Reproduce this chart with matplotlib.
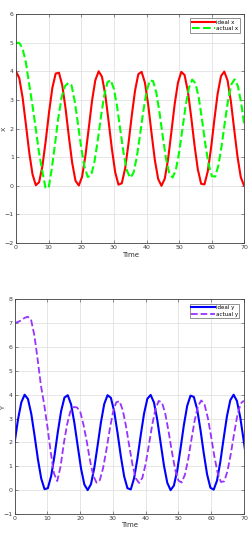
import matplotlib
matplotlib.use("Agg")
from matplotlib import pyplot as plt

# time samples of the reference curves
t_ideal = [0, 1.01, 2.03, 3.04, 4.05, 5.07, 6.08, 7.09, 8.10, 9.12, 10.13, 11.14, 12.16,
           13.17, 14.18, 15.20, 16.21, 17.22, 18.23, 19.25, 20.26, 21.27, 22.29, 23.30,
           24.31, 25.33, 26.34, 27.35, 28.36, 29.38, 30.39, 31.40, 32.42, 33.43, 34.44,
           35.46, 36.47, 37.48, 38.49, 39.51, 40.52, 41.53, 42.55, 43.56, 44.57, 45.59,
           46.60, 47.61, 48.62, 49.64, 50.65, 51.66, 52.68, 53.69, 54.70, 55.72, 56.73,
           57.74, 58.75, 59.77, 60.78, 61.79, 62.81, 63.82, 64.83, 65.85, 66.86, 67.87,
           68.88, 69.90, 70.91]
t_actual = list(range(71))

ideal_x = [4.00, 3.76, 3.08, 2.14, 1.17, 0.40, 0.02, 0.13, 0.69, 1.58, 2.57, 3.42, 3.92,
           3.95, 3.51, 2.69, 1.71, 0.80, 0.18, 0.01, 0.32, 1.05, 2.01, 2.97, 3.69, 4.00,
           3.81, 3.19, 2.27, 1.29, 0.48, 0.04, 0.09, 0.60, 1.45, 2.44, 3.32, 3.90, 3.98,
           3.60, 2.82, 1.84, 0.90, 0.24, 0.00, 0.25, 0.93, 1.88, 2.85, 3.61, 3.98, 3.87,
           3.29, 2.40, 1.42, 0.57, 0.07, 0.05, 0.50, 1.32, 2.31, 3.22, 3.83, 3.99, 3.68,
           2.94, 1.97, 1.02, 0.30, 0.00, 0.19]
actual_x = [5.00, 4.99, 4.80, 4.33, 3.57, 2.85, 2.05, 1.20, 0.55, -0.05, -0.08, 0.62, 1.50,
            2.40, 3.10, 3.48, 3.59, 3.52, 2.95, 2.15, 1.33, 0.65, 0.31, 0.36, 0.81, 1.54,
            2.38, 3.13, 3.61, 3.70, 3.39, 2.75, 1.92, 1.12, 0.53, 0.28, 0.45, 0.99, 1.77,
            2.60, 3.29, 3.68, 3.66, 3.25, 2.54, 1.70, 0.93, 0.42, 0.29, 0.56, 1.18, 1.99,
            2.81, 3.43, 3.71, 3.58, 3.08, 2.31, 1.47, 0.76, 0.34, 0.32, 0.70, 1.39, 2.22,
            3.00, 3.55, 3.72, 3.48, 2.89, 2.09]

ideal_y = [2.00, 2.96, 3.68, 4.00, 3.82, 3.20, 2.28, 1.30, 0.49, 0.04, 0.08, 0.59, 1.44,
           2.43, 3.31, 3.88, 3.98, 3.60, 2.82, 1.85, 0.91, 0.24, 0.00, 0.25, 0.93, 1.87,
           2.84, 3.61, 3.98, 3.87, 3.30, 2.41, 1.42, 0.58, 0.08, 0.03, 0.50, 1.32, 2.30,
           3.21, 3.83, 3.99, 3.67, 2.94, 1.98, 1.03, 0.31, 0.00, 0.19, 0.82, 1.74, 2.72,
           3.53, 3.96, 3.91, 3.40, 2.54, 1.55, 0.67, 0.10, 0.02, 0.40, 1.19, 2.17, 3.10,
           3.77, 4.00, 3.74, 3.06, 2.11, 1.14]
actual_y = [7.00, 7.05, 7.12, 7.22, 7.27, 7.15, 6.50, 5.50, 4.40, 3.60, 2.66, 1.60, 0.70,
            0.38, 0.98, 1.95, 2.75, 3.30, 3.48, 3.47, 3.30, 2.75, 2.05, 1.25, 0.61, 0.31,
            0.42, 0.92, 1.68, 2.52, 3.25, 3.68, 3.73, 3.36, 2.68, 1.84, 1.05, 0.49, 0.30,
            0.52, 1.10, 1.90, 2.74, 3.40, 3.74, 3.67, 3.20, 2.46, 1.62, 0.87, 0.40, 0.32,
            0.65, 1.30, 2.14, 2.94, 3.53, 3.76, 3.58, 3.02, 2.24, 1.40, 0.71, 0.34, 0.37,
            0.80, 1.52, 2.36, 3.13, 3.63, 3.75]

x_ticks = [0, 10, 20, 30, 40, 50, 60, 70]

fig = plt.figure(figsize=(2.53, 5.5), dpi=100)
fig.patch.set_facecolor("white")

ax1 = fig.add_axes([0.0632, 0.558, 0.903, 0.4165])
ax2 = fig.add_axes([0.058, 0.0655, 0.906, 0.3903])


def style(ax, ylo, yhi, ylab):
    ax.set_xlim(0, 70)
    ax.set_ylim(ylo, yhi)
    ax.set_xticks(x_ticks)
    ax.set_yticks(range(ylo, yhi + 1))
    ax.grid(True, color="#dcdcdc", linewidth=0.5)
    ax.set_axisbelow(True)
    ax.tick_params(direction="in", length=2, width=0.4, labelsize=4.5,
                   colors="#404040", top=True, right=True, pad=1.5)
    for sp in ax.spines.values():
        sp.set_color("#404040")
        sp.set_linewidth(0.6)
    ax.set_xlabel("Time", fontsize=5, color="#303030", labelpad=1)
    ax.set_ylabel(ylab, fontsize=4.5, color="#303030")
    ax.yaxis.set_label_coords(-0.04, 0.5)


ax1.plot(t_ideal, ideal_x, color="#ff0000", linewidth=1.5, label="ideal x")
ax1.plot(t_actual, actual_x, color="#00ff00", linewidth=1.5, linestyle="--", label="actual x")
style(ax1, -2, 6, "X")

ax2.plot(t_ideal, ideal_y, color="#0000ff", linewidth=1.5, label="ideal y")
ax2.plot(t_actual, actual_y, color="#9933ff", linewidth=1.3, linestyle="--", label="actual y")
style(ax2, -1, 8, "Y")

for ax in (ax1, ax2):
    leg = ax.legend(loc="upper right", fontsize=4, frameon=True, fancybox=False,
                    handlelength=4.2, handletextpad=0.2, borderpad=0.3,
                    labelspacing=0.2, borderaxespad=0.8)
    leg.get_frame().set_edgecolor("#404040")
    leg.get_frame().set_linewidth(0.5)

fig.savefig("out.png", dpi=100)
